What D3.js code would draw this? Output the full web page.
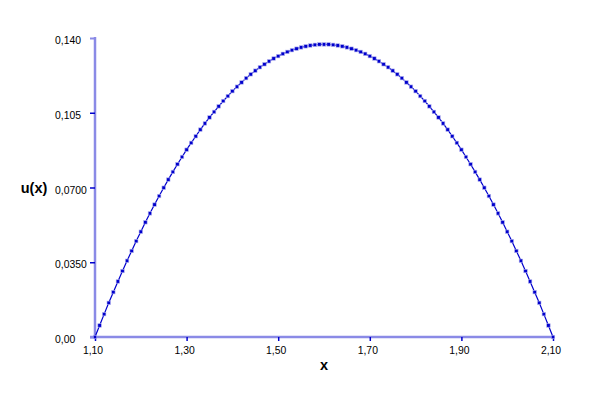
<!DOCTYPE html>
<html>
<head>
<meta charset="utf-8">
<script src="https://cdn.jsdelivr.net/npm/d3@7"></script>
<style>
  body { margin: 0; background: #fff; }
  svg text { font-family: "Liberation Sans", Arial, sans-serif; fill: #000; }
</style>
</head>
<body>
<div id="chart"></div>
<script>
// sample points (step 0.01)
var xValues = [
  1.10, 1.11, 1.12, 1.13, 1.14, 1.15, 1.16, 1.17, 1.18, 1.19,
  1.20, 1.21, 1.22, 1.23, 1.24, 1.25, 1.26, 1.27, 1.28, 1.29,
  1.30, 1.31, 1.32, 1.33, 1.34, 1.35, 1.36, 1.37, 1.38, 1.39,
  1.40, 1.41, 1.42, 1.43, 1.44, 1.45, 1.46, 1.47, 1.48, 1.49,
  1.50, 1.51, 1.52, 1.53, 1.54, 1.55, 1.56, 1.57, 1.58, 1.59,
  1.60, 1.61, 1.62, 1.63, 1.64, 1.65, 1.66, 1.67, 1.68, 1.69,
  1.70, 1.71, 1.72, 1.73, 1.74, 1.75, 1.76, 1.77, 1.78, 1.79,
  1.80, 1.81, 1.82, 1.83, 1.84, 1.85, 1.86, 1.87, 1.88, 1.89,
  1.90, 1.91, 1.92, 1.93, 1.94, 1.95, 1.96, 1.97, 1.98, 1.99,
  2.00, 2.01, 2.02, 2.03, 2.04, 2.05, 2.06, 2.07, 2.08, 2.09,
  2.10
];

var uValues = [
  0.0000, 0.0054, 0.0107, 0.0160, 0.0210, 0.0260, 0.0309, 0.0357, 0.0403, 0.0449,
  0.0493, 0.0537, 0.0579, 0.0620, 0.0660, 0.0699, 0.0737, 0.0773, 0.0809, 0.0843,
  0.0877, 0.0909, 0.0940, 0.0971, 0.1000, 0.1028, 0.1054, 0.1080, 0.1105, 0.1128,
  0.1151, 0.1172, 0.1192, 0.1212, 0.1230, 0.1247, 0.1263, 0.1277, 0.1291, 0.1304,
  0.1315, 0.1326, 0.1335, 0.1343, 0.1350, 0.1356, 0.1361, 0.1365, 0.1368, 0.1370,
  0.1370,
  0.1370, 0.1368, 0.1365, 0.1361, 0.1356, 0.1350, 0.1343, 0.1335, 0.1326, 0.1315,
  0.1304, 0.1291, 0.1277, 0.1263, 0.1247, 0.1230, 0.1212, 0.1192, 0.1172, 0.1151,
  0.1128, 0.1105, 0.1080, 0.1054, 0.1028, 0.1000, 0.0971, 0.0940, 0.0909, 0.0877,
  0.0843, 0.0809, 0.0773, 0.0737, 0.0699, 0.0660, 0.0620, 0.0579, 0.0537, 0.0493,
  0.0449, 0.0403, 0.0357, 0.0309, 0.0260, 0.0210, 0.0160, 0.0107, 0.0054, 0.0000
];

var xTicks = [1.10, 1.30, 1.50, 1.70, 1.90, 2.10];
var xTickLabels = ['1,10', '1,30', '1,50', '1,70', '1,90', '2,10'];
var yTicks = [0, 0.035, 0.07, 0.105, 0.14];
var yTickLabels = ['0,00', '0,0350', '0,0700', '0,105', '0,140'];

var width = 600,
  height = 400,
  plotLeft = 95,
  plotRight = 553,
  plotTop = 38,
  plotBottom = 337,
  yLabelLeft = 55;

var axisColour = '#8a8ae6',
  tickColour = '#0000cc',
  lineColour = '#0000cc';

var svg = d3.select('#chart')
  .append('svg')
  .attr('width', width)
  .attr('height', height);

var x = d3.scaleLinear().domain([1.10, 2.10]).range([plotLeft, plotRight]);
var y = d3.scaleLinear().domain([0, 0.14]).range([plotBottom, plotTop]);

// axes
var yAxis = svg.append('g')
  .attr('transform', 'translate(' + plotLeft + ',0)')
  .call(d3.axisLeft(y)
    .tickValues(yTicks)
    .tickFormat(function(d, i) { return yTickLabels[i]; })
    .tickSizeInner(5)
    .tickSizeOuter(0)
    .tickPadding(9));

var xAxis = svg.append('g')
  .attr('transform', 'translate(0,' + plotBottom + ')')
  .call(d3.axisBottom(x)
    .tickValues(xTicks)
    .tickFormat(function(d, i) { return xTickLabels[i]; })
    .tickSizeInner(4)
    .tickSizeOuter(0)
    .tickPadding(6));

[yAxis, xAxis].forEach(function(ax) {
  ax.select('.domain')
    .attr('stroke', axisColour)
    .attr('stroke-width', 2.5);
  ax.selectAll('.tick line')
    .attr('stroke', tickColour)
    .attr('stroke-width', 1.5);
  ax.selectAll('.tick text')
    .attr('font-family', '"Liberation Sans", Arial, sans-serif')
    .attr('font-size', 10.4)
    .attr('fill', '#000');
});

xAxis.select('.domain').attr('d', 'M' + (plotLeft - 5) + ',0H' + (plotRight + 2));
xAxis.selectAll('.tick text').attr('x', -2.5);
yAxis.select('.domain').attr('d', 'M0,' + plotBottom + 'V' + (plotTop - 1));
yAxis.selectAll('.tick line')
  .filter(function(d) { return d === 0.14; })
  .attr('stroke', axisColour)
  .attr('stroke-width', 2);
// y labels are left aligned in a column
yAxis.selectAll('.tick text')
  .attr('text-anchor', 'start')
  .attr('x', yLabelLeft - plotLeft)
  .attr('dy', '0.55em');

// axis titles
svg.append('text')
  .attr('x', 34)
  .attr('y', 193)
  .attr('text-anchor', 'middle')
  .attr('font-size', 14.5)
  .attr('font-weight', 'bold')
  .text('u(x)');

svg.append('text')
  .attr('x', 324)
  .attr('y', 370)
  .attr('text-anchor', 'middle')
  .attr('font-size', 14.5)
  .attr('font-weight', 'bold')
  .text('x');

// curve
var points = xValues.map(function(d, i) { return [d, uValues[i]]; });

svg.append('path')
  .datum(points)
  .attr('fill', 'none')
  .attr('stroke', lineColour)
  .attr('stroke-width', 1.2)
  .attr('d', d3.line()
    .x(function(d) { return x(d[0]); })
    .y(function(d) { return y(d[1]); }));

svg.append('g')
  .selectAll('rect.marker')
  .data(points)
  .enter().append('rect')
  .attr('class', 'marker')
  .attr('x', function(d) { return x(d[0]) - 1.75; })
  .attr('y', function(d) { return y(d[1]) - 1.75; })
  .attr('width', 3.5)
  .attr('height', 3.5)
  .attr('fill', lineColour)
  .attr('stroke', '#b8b8f0')
  .attr('stroke-width', 0.6);
</script>
</body>
</html>
